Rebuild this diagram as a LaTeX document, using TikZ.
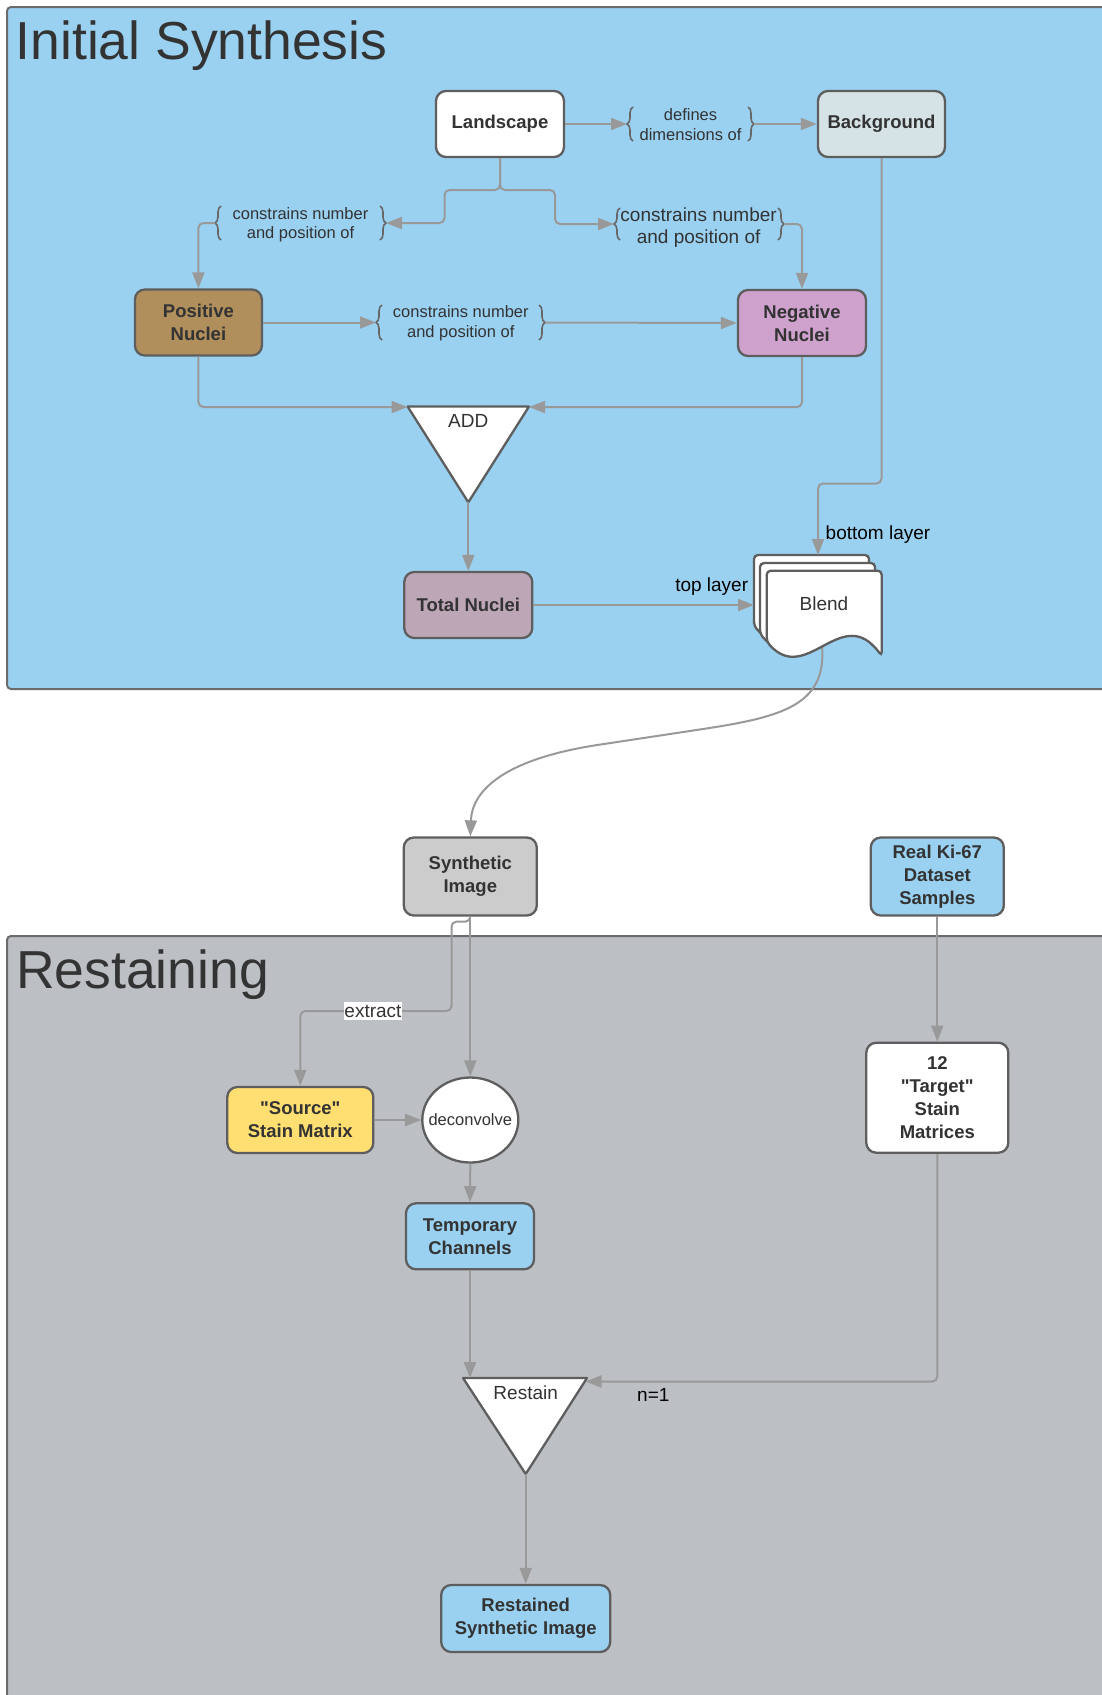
\documentclass[tikz,border=0pt]{standalone}
\usepackage{fontspec}
\setmainfont{Liberation Sans}[Ligatures=TeXOff]
\usetikzlibrary{arrows.meta,decorations.pathreplacing,shapes.geometric}
\definecolor{skyblue}{HTML}{9AD1F1}
\definecolor{restgray}{HTML}{BCBFC4}
\definecolor{framebd}{HTML}{6B6B6B}
\definecolor{nodebd}{HTML}{5E5E5E}
\definecolor{txtc}{HTML}{333333}
\definecolor{linec}{HTML}{999999}
\definecolor{bgfill}{HTML}{D5E3E6}
\definecolor{posfill}{HTML}{B08F5C}
\definecolor{negfill}{HTML}{CEA2CD}
\definecolor{totfill}{HTML}{BDA7B7}
\definecolor{synfill}{HTML}{CCCCCC}
\definecolor{srcfill}{HTML}{FFDF71}
\definecolor{bracec}{HTML}{666666}
\newcommand\nodefont{\fontsize{18.5}{23}\selectfont\bfseries}
\newcommand\labfont{\fontsize{16.5}{20}\selectfont}
\newcommand\biglabfont{\fontsize{19}{22}\selectfont}
\newcommand\titlefont{\fontsize{53.5}{60}\selectfont}
\tikzset{
  box/.style={draw=nodebd, line width=2.3pt, rounded corners=10pt, text=txtc, font=\nodefont, align=center, inner sep=0pt},
  conn/.style={draw=linec, line width=2pt, rounded corners=5pt, -{Triangle[length=16pt,width=12pt]}},
  curveconn/.style={draw=linec, line width=2pt, -{Triangle[length=16pt,width=12pt]}},
  bracedeco/.style={draw=bracec, line width=1.6pt, decorate, decoration={brace, amplitude=6pt}},
  framebox/.style={draw=framebd, line width=2pt, rounded corners=4pt},
  tri/.style={draw=nodebd, fill=white, line width=2.3pt, line join=round},
  sheet/.style={draw=nodebd, fill=white, line width=2.3pt, rounded corners=4pt},
  lab/.style={text=txtc, font=\labfont, align=center, inner sep=0pt},
  biglab/.style={text=txtc, font=\biglabfont, align=center, inner sep=0pt},
  freelab/.style={text=black, font=\biglabfont, inner sep=0pt},
}
\begin{document}
\begin{tikzpicture}[x=1pt,y=-1pt]
\useasboundingbox (0,0) rectangle (1102,1695);
\clip (0,0) rectangle (1102,1695);
\fill[white] (0,0) rectangle (1102,1695);
% frames
\filldraw[framebox, fill=skyblue] (7,7) rectangle (1115,689);
\filldraw[framebox, fill=restgray] (7,936) rectangle (1115,1712);
\node[anchor=base west, font=\titlefont, text=txtc, inner sep=0pt] (title1) at (15.5,59) {Initial Synthesis};
\node[anchor=base west, font=\titlefont, text=txtc, inner sep=0pt] (title2) at (16,988) {Restaining};

% nodes
\node[box, fill=white, minimum width=128pt, minimum height=66pt] (land) at (500,124) {Landscape};
\node[box, fill=bgfill, minimum width=127pt, minimum height=66pt] (bg) at (881.5,124) {Background};
\node[box, fill=posfill, minimum width=127pt, minimum height=66pt] (pos) at (198.4,322.5) {Positive\\Nuclei};
\node[box, fill=negfill, minimum width=128pt, minimum height=66pt] (neg) at (802,323) {Negative\\Nuclei};
\node[box, fill=totfill, minimum width=128pt, minimum height=66pt] (total) at (468.3,605) {Total Nuclei};
\node[box, fill=synfill, minimum width=133pt, minimum height=78pt] (synth) at (470.3,876.5) {Synthetic\\Image};
\node[box, fill=skyblue, minimum width=133pt, minimum height=78pt] (real) at (937.3,876.5) {Real Ki-67\\Dataset\\Samples};
\node[box, fill=white, minimum width=142pt, minimum height=110pt] (target) at (937.3,1097.7) {12\\"Target"\\Stain\\Matrices};
\node[box, fill=srcfill, minimum width=146pt, minimum height=66pt] (source) at (300.3,1120) {"Source"\\Stain Matrix};
\node[draw=nodebd, line width=2.3pt, fill=white, ellipse, minimum width=96pt, minimum height=85pt, inner sep=0pt, font=\labfont, text=txtc] (deconv) at (470.3,1120) {\makebox[40pt][c]{deconvolve}};
\node[box, fill=skyblue, minimum width=128pt, minimum height=66pt] (temp) at (470,1236.3) {Temporary\\Channels};
\node[box, fill=skyblue, minimum width=169pt, minimum height=67pt] (restained) at (525.7,1618.5) {Restained\\Synthetic Image};

% triangles
\filldraw[tri] (407.6,406.5) -- (529,406.5) -- (468.3,502.3) -- cycle;
\coordinate (addL) at (407.6,407);
\coordinate (addR) at (529,407);
\coordinate (addB) at (468.3,502.3);
\node[biglab] (add) at (468.3,420.7) {ADD};
\filldraw[tri] (463,1378) -- (587,1378) -- (525.7,1474) -- cycle;
\coordinate (resTL) at (463,1378);
\coordinate (resR) at (585.5,1381.5);
\coordinate (resB) at (525.7,1474);
\node[biglab] (restain) at (525.7,1392.3) {Restain};

% brace labels
\node[lab] (b1) at (690.5,125) {defines\\dimensions of};
\draw[bracedeco] (633,141) -- (633,107);
\draw[bracedeco] (748,107) -- (748,141);
\coordinate (b1L) at (627,124);
\coordinate (b1R) at (754,124);

\node[lab, font=\fontsize{16.5}{19.5}\selectfont] (b2) at (300.5,224.5) {constrains number\\and position of};
\draw[bracedeco] (221,240) -- (221,206);
\draw[bracedeco] (380,206) -- (380,240);
\coordinate (b2L) at (215,223);
\coordinate (b2R) at (386,223);

\node[biglab] (b3) at (698.6,228) {constrains number\\and position of};
\draw[bracedeco] (620,240) -- (620,208);
\draw[bracedeco] (778,208) -- (778,240);
\coordinate (b3L) at (614,224);
\coordinate (b3R) at (784,224);

\node[lab] (b4) at (460.8,323.3) {constrains number\\and position of};
\draw[bracedeco] (382,340) -- (382,305);
\draw[bracedeco] (539,305) -- (539,340);
\coordinate (b4L) at (376,322.5);
\coordinate (b4R) at (545,322.5);

% blend connector curve (under sheets)
\coordinate (blendB) at (822,646);
\coordinate (blendL) at (754,605);
\coordinate (blendT) at (818,555);
\draw[curveconn] (blendB) .. controls (827,705) and (782,717) .. (703,729) -- (604,744) .. controls (505,758) and (472,790) .. (synth.north);

% blend sheets
\foreach \dx/\dy in {-12.7/-15.7, -6.7/-7.7, 0/0} {
  \filldraw[sheet] (766.7+\dx,641.7+\dy) -- (766.7+\dx,570.7+\dy) -- (881.7+\dx,570.7+\dy) -- (881.7+\dx,656+\dy)
    .. controls (841.7+\dx,601.7+\dy) and (806.7+\dx,686.7+\dy) .. (766.7+\dx,641.7+\dy) -- cycle;
}
\node[biglab] (blend) at (824,603.5) {Blend};

% connectors upper
\draw[conn] (land.east) -- (b1L);
\draw[conn] (b1R) -- (bg.west);
\coordinate (lsplitL) at (444.5,190);
\coordinate (lsplitR) at (555,190);
\draw[conn] (land.south) |- (lsplitL) |- (b2R);
\draw[conn] (land.south) |- (lsplitR) |- (b3L);
\draw[conn] (b2L) -| (pos.north);
\draw[conn] (b3R) -| (neg.north);
\draw[conn] (pos.east) -- (b4L);
\draw[conn] (b4R) -- (neg.west);
\draw[conn] (pos.south) |- (addL);
\draw[conn] (neg.south) |- (addR);
\draw[conn] (addB) -- (total.north);
\draw[conn] (total.east) -- (blendL);
\coordinate (bgturn) at (881.5,483.5);
\draw[conn] (bg.south) -- (bgturn) -| (blendT);
\node[freelab] (toplab) at (711.7,586.7) {top layer};
\node[freelab, anchor=west] (botlab) at (825.5,535) {bottom layer};

% connectors lower
\draw[conn] (synth.south) -- (deconv.north);
\coordinate (ex2) at (451.5,1011);
\draw[conn] (synth.south) -- ++(0,5) -| (ex2) -| (source.north);
\node[fill=white, text=txtc, font=\biglabfont, inner xsep=0.5pt, inner ysep=2.5pt] (extract) at (373,1011) {extract};
\draw[conn] (source.east) -- (deconv.west);
\draw[conn] (deconv.south) -- (temp.north);
\draw[conn] (temp.south) -- (temp.south |- resTL);
\draw[conn] (real.south) -- (target.north);
\draw[conn] (target.south) |- (resR);
\node[freelab] (nlab) at (653.3,1395) {n=1};
\draw[conn] (resB) -- (restained.north);
\end{tikzpicture}
\end{document}
